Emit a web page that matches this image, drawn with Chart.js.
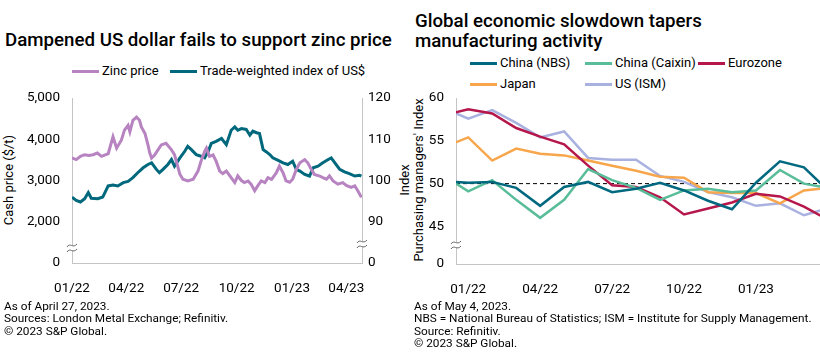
<!DOCTYPE html>
<html>
<head>
<meta charset="utf-8">
<script src="https://cdn.jsdelivr.net/npm/chart.js@4.4.0/dist/chart.umd.min.js"></script>
<style>
  body { margin: 0; width: 820px; height: 363px; background: #fff; position: relative; overflow: hidden;
         font-family: Roboto, "Noto Sans", sans-serif; color: #000; }
  .title { position: absolute; font-weight: 500; font-size: 18.7px; line-height: 20px; white-space: nowrap; }
  .item { position: absolute; display: flex; align-items: center; white-space: nowrap; font-size: 13px; line-height: 16px; }
  .item i { display: inline-block; width: 27px; height: 3px; margin-right: 3px; }
  .foot { position: absolute; font-size: 11.8px; line-height: 12.3px; white-space: nowrap; }
  .axt { position: absolute; font-size: 13px; white-space: nowrap; transform: translate(-50%, -50%) rotate(-90deg); }
  .box { position: absolute; top: 78px; width: 410px; height: 222px; }
</style>
</head>
<body>
<div class="title" style="left:5px;top:30px">Dampened US dollar fails to support zinc price</div>
<div class="item" style="left:72px;top:63px"><i style="background:#b784c1"></i>Zinc price</div>
<div class="item" style="left:170px;top:63px"><i style="background:#00687d"></i>Trade-weighted index of US$</div>
<div class="axt" style="left:8px;top:180px">Cash price ($/t)</div>
<div class="axt" style="left:404px;top:180px">Index</div>
<div class="box" style="left:0"><canvas id="zinc"></canvas></div>
<div class="foot" style="left:4px;top:300px">As of April 27, 2023.<br>Sources: London Metal Exchange; Refinitiv.<br>© 2023 S&amp;P Global.</div>

<div class="title" style="left:415px;top:11px">Global economic slowdown tapers<br>manufacturing activity</div>
<div class="item" style="left:470px;top:55px"><i style="background:#00687f"></i>China (NBS)</div>
<div class="item" style="left:585px;top:55px"><i style="background:#58bd98"></i>China (Caixin)</div>
<div class="item" style="left:698px;top:55px"><i style="background:#b5174b"></i>Eurozone</div>
<div class="item" style="left:470px;top:76px"><i style="background:#f7a64c"></i>Japan</div>
<div class="item" style="left:585px;top:76px"><i style="background:#a8b1e0"></i>US (ISM)</div>
<div class="axt" style="left:418px;top:180px">Purchasing managers' Index</div>
<div class="box" style="left:410px"><canvas id="pmi"></canvas></div>
<div class="foot" style="left:414px;top:300px">As of May 4, 2023.<br>NBS = National Bureau of Statistics; ISM = Institute for Supply Management.<br>Source: Refinitiv.<br>© 2023 S&amp;P Global.</div>

<script>
// left chart: days counted from 2022-01-01
const zincDays = [0, 7, 14, 21, 28, 35, 42, 49, 56, 60, 68, 74, 82, 87, 93, 96, 101, 107, 112, 115, 121, 126, 129, 132, 137,
  148, 156, 165, 170, 173, 179, 184, 192, 201, 209, 214, 220, 223, 228, 234, 239, 245, 250, 256, 264, 270, 275, 281, 286,
  292, 297, 303, 308, 314, 320, 325, 331, 339, 344, 350, 355, 361, 366, 372, 378, 386, 391, 397, 402, 411, 416, 422, 427,
  433, 441, 449, 455, 463, 469, 474, 480];
const zincPrice = [3548, 3508, 3587, 3627, 3611, 3627, 3667, 3587, 3627, 3650, 4063, 3786, 3984, 4222, 4341, 4183, 4460, 4540,
  4460, 4300, 4143, 3865, 3667, 3548, 3620, 3865, 3905, 3746, 3627, 3468, 3150, 3032, 2992, 3032, 3230, 3468, 3706, 3786,
  3587, 3620, 3470, 3230, 3170, 3230, 3071, 2952, 3111, 3000, 2952, 2990, 2913, 2754, 2870, 2992, 2950, 3071, 3030, 3190,
  3349, 3190, 2992, 2960, 3032, 3270, 3429, 3508, 3430, 3270, 3150, 3110, 3070, 3032, 3111, 2992, 2913, 2950, 2880, 2833,
  2870, 2754, 2595];
const usdDays = [0, 7, 14, 21, 27, 32, 43, 51, 60, 68, 76, 85, 93, 101, 109, 118, 126, 132, 140, 145, 151, 159, 165, 170, 179,
  187, 192, 198, 206, 214, 220, 226, 231, 239, 248, 256, 264, 270, 275, 281, 289, 295, 300, 306, 311, 317, 322, 328, 333,
  342, 350, 358, 366, 372, 378, 386, 394, 400, 408, 416, 425, 430, 436, 444, 452, 460, 469, 477, 480];
const usdIndex = [95.95, 95.2, 94.8, 95.6, 97.1, 95.7, 95.6, 96.0, 98.7, 98.9, 98.7, 99.5, 99.8, 100.7, 101.9, 103.1, 103.9,
  104.3, 102.7, 101.9, 102.7, 103.9, 105.1, 103.5, 105.5, 107.1, 108.3, 107.5, 106.3, 105.9, 105.5, 107.1, 109.0, 109.5,
  110.2, 108.7, 112.2, 113.0, 112.2, 112.6, 112.4, 111.0, 112.0, 111.6, 111.4, 107.5, 107.0, 106.3, 105.5, 104.9, 104.3,
  103.9, 104.7, 102.7, 102.3, 101.5, 101.1, 103.1, 103.5, 104.3, 105.1, 105.5, 104.3, 102.7, 102.1, 101.7, 101.1, 101.3, 101.1];
const zincTickDays = [0, 90, 181, 273, 365, 455];
const zincTickLabels = ['01/22', '04/22', '07/22', '10/22', '01/23', '04/23'];
const priceTicks = [1000, 2000, 3000, 4000, 5000];   // 1000 stands for the broken "0"
const indexTicks = [80, 90, 100, 110, 120];          // 80 stands for the broken "0"

// right chart: month index 0 = 12/21
const pmiTickIdx = [1, 4, 7, 10, 13];
const pmiTickLabels = ['01/22', '04/22', '07/22', '10/22', '01/23'];
const chinaNBS = [50.3, 50.1, 50.2, 49.5, 47.4, 49.6, 50.2, 49.0, 49.4, 50.1, 49.2, 48.0, 47.0, 50.1, 52.6, 51.9, 49.2];
const chinaCaixin = [50.9, 49.1, 50.4, 48.1, 46.0, 48.1, 51.7, 50.4, 49.5, 48.1, 49.2, 49.4, 49.0, 49.2, 51.6, 50.0, 49.5];
const eurozone = [58.0, 58.7, 58.2, 56.5, 55.5, 54.6, 52.1, 49.8, 49.6, 48.4, 46.4, 47.1, 47.8, 48.8, 48.5, 47.3, 45.8];
const japan = [54.3, 55.4, 52.7, 54.1, 53.5, 53.3, 52.7, 52.1, 51.5, 50.8, 50.7, 49.0, 48.9, 48.9, 47.7, 49.2, 49.5];
const usISM = [58.8, 57.6, 58.6, 57.1, 55.4, 56.1, 53.0, 52.8, 52.8, 50.9, 50.2, 49.0, 48.4, 47.4, 47.7, 46.3, 47.1];
const pmiTicks = [40.6, 45, 50, 55, 60];             // 40.6 stands for the broken "0"

Chart.defaults.font.family = 'Roboto, "Noto Sans", sans-serif';
Chart.defaults.font.size = 13.5;
Chart.defaults.color = '#000';

const AXIS = '#c4c4c4';

function pairs(xs, ys) {
  return xs.map((x, i) => ({ x: x, y: ys[i] }));
}

function axis(extra) {
  return Object.assign({
    grid: { display: false, drawTicks: false },
    border: { display: true, color: AXIS, width: 1 },
  }, extra);
}

// little "≈" marks where the value axes are broken
function drawBreak(ctx, x, y) {
  ctx.save();
  ctx.fillStyle = '#fff';
  ctx.fillRect(x - 2, y - 3, 4, 6);
  ctx.strokeStyle = '#666';
  ctx.lineWidth = 1;
  [-2.5, 2.5].forEach(dy => {
    ctx.beginPath();
    ctx.moveTo(x - 5, y + dy + 1.5);
    ctx.bezierCurveTo(x - 2, y + dy - 3.5, x + 1, y + dy + 3.5, x + 5, y + dy - 1.5);
    ctx.stroke();
  });
  ctx.restore();
}

const breakPlugin = {
  id: 'breaks',
  afterDraw(chart, args, opts) {
    const a = chart.chartArea;
    (opts.marks || []).forEach(m => {
      drawBreak(chart.ctx, m.side === 'right' ? a.right : a.left, a.bottom - m.up);
    });
  }
};

const refLine = {
  id: 'refLine',
  beforeDatasetsDraw(chart, args, opts) {
    if (opts.value === undefined) return;
    const a = chart.chartArea;
    const y = chart.scales.y.getPixelForValue(opts.value);
    const ctx = chart.ctx;
    ctx.save();
    ctx.strokeStyle = '#000';
    ctx.lineWidth = 1;
    ctx.setLineDash([4, 3]);
    ctx.beginPath();
    ctx.moveTo(a.left, y);
    ctx.lineTo(a.right, y);
    ctx.stroke();
    ctx.restore();
  }
};

new Chart(document.getElementById('zinc'), {
  type: 'line',
  data: {
    datasets: [
      { label: 'Zinc price', data: pairs(zincDays, zincPrice), yAxisID: 'y',
        borderColor: '#b784c1', borderWidth: 3, pointRadius: 0 },
      { label: 'Trade-weighted index of US$', data: pairs(usdDays, usdIndex), yAxisID: 'y1',
        borderColor: '#00687d', borderWidth: 3, pointRadius: 0 }
    ]
  },
  options: {
    responsive: true, maintainAspectRatio: false, animation: false,
    layout: { padding: { top: 5, left: 0, right: 0, bottom: 0 } },
    plugins: { legend: { display: false }, tooltip: { enabled: false },
      breaks: { marks: [{ side: 'left', up: 15 }, { side: 'right', up: 19 }] } },
    scales: {
      x: axis({ type: 'linear', min: 0, max: 481,
        afterBuildTicks: s => { s.ticks = zincTickDays.map(v => ({ value: v })); },
        afterFit: s => { s.height = 37; },
        ticks: { padding: 18, maxRotation: 0, autoSkip: false, callback: (v, i) => zincTickLabels[i] } }),
      y: axis({ position: 'left', min: 1000, max: 5000,
        afterBuildTicks: s => { s.ticks = priceTicks.map(v => ({ value: v })); },
        afterFit: s => { s.width = 72; },
        ticks: { padding: 12, callback: v => v === 1000 ? '0' : v.toLocaleString('en-US') } }),
      y1: axis({ position: 'right', min: 80, max: 120,
        afterBuildTicks: s => { s.ticks = indexTicks.map(v => ({ value: v })); },
        afterFit: s => { s.width = 48; },
        ticks: { padding: 6, callback: v => v === 80 ? '0' : String(v) } })
    }
  },
  plugins: [breakPlugin]
});

const pmiSeries = [
  ['China (NBS)', chinaNBS, '#00687f'],
  ['China (Caixin)', chinaCaixin, '#58bd98'],
  ['Eurozone', eurozone, '#b5174b'],
  ['Japan', japan, '#f7a64c'],
  ['US (ISM)', usISM, '#a8b1e0']
];

new Chart(document.getElementById('pmi'), {
  type: 'line',
  data: {
    datasets: pmiSeries.map(([name, vals, color]) => ({
      label: name, data: vals.map((v, i) => ({ x: i, y: v })),
      borderColor: color, borderWidth: 2.5, pointRadius: 0
    }))
  },
  options: {
    responsive: true, maintainAspectRatio: false, animation: false,
    layout: { padding: { top: 5, left: 0, right: 0, bottom: 0 } },
    plugins: { legend: { display: false }, tooltip: { enabled: false },
      breaks: { marks: [{ side: 'left', up: 19 }] }, refLine: { value: 50 } },
    scales: {
      x: axis({ type: 'linear', min: 0.49, max: 15.67,
        afterBuildTicks: s => { s.ticks = pmiTickIdx.map(v => ({ value: v })); },
        afterFit: s => { s.height = 36; },
        ticks: { padding: 18, maxRotation: 0, autoSkip: false, callback: (v, i) => pmiTickLabels[i] } }),
      y: axis({ position: 'left', min: 40.6, max: 60,
        afterBuildTicks: s => { s.ticks = pmiTicks.map(v => ({ value: v })); },
        afterFit: s => { s.width = 46; },
        ticks: { padding: 12, callback: v => v === 40.6 ? '0' : String(v) } })
    }
  },
  plugins: [breakPlugin, refLine]
});
</script>
</body>
</html>
